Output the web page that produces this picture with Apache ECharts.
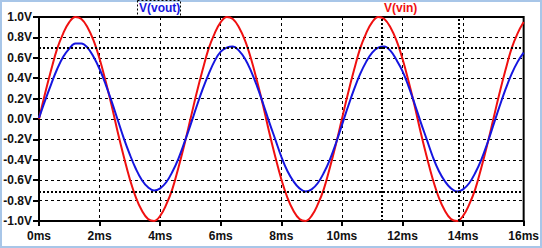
<!DOCTYPE html>
<html>
<head>
<meta charset="utf-8">
<script src="https://cdn.jsdelivr.net/npm/echarts@6/dist/echarts.min.js"></script>
<style>
html,body{margin:0;padding:0;background:#fff;}
#c{width:542px;height:248px;}
</style>
</head>
<body>
<div id="c"></div>
<script>
// time in ms
var times = [0,0.2,0.4,0.6,0.8,1.0,1.2,1.4,1.6,1.8,2.0,2.2,2.4,2.6,2.8,3.0,3.2,3.4,3.6,3.8,
  4.0,4.2,4.4,4.6,4.8,5.0,5.2,5.4,5.6,5.8,6.0,6.2,6.4,6.6,6.8,7.0,7.2,7.4,7.6,7.8,
  8.0,8.2,8.4,8.6,8.8,9.0,9.2,9.4,9.6,9.8,10.0,10.2,10.4,10.6,10.8,11.0,11.2,11.4,11.6,11.8,
  12.0,12.2,12.4,12.6,12.8,13.0,13.2,13.4,13.6,13.8,14.0,14.2,14.4,14.6,14.8,15.0,15.2,15.4,15.6,15.8,16.0];
// V(vin) in volts
var vin = [0,0.25,0.48,0.69,0.84,0.95,1.0,0.98,0.9,0.77,0.59,0.37,0.13,-0.13,-0.37,-0.59,-0.77,-0.9,-0.98,-1.0,-0.95,-0.84,-0.69,-0.48,-0.25,
  0,0.25,0.48,0.69,0.84,0.95,1.0,0.98,0.9,0.77,0.59,0.37,0.13,-0.13,-0.37,-0.59,-0.77,-0.9,-0.98,-1.0,-0.95,-0.84,-0.69,-0.48,-0.25,
  0,0.25,0.48,0.69,0.84,0.95,1.0,0.98,0.9,0.77,0.59,0.37,0.13,-0.13,-0.37,-0.59,-0.77,-0.9,-0.98,-1.0,-0.95,-0.84,-0.69,-0.48,-0.25,
  0,0.25,0.48,0.69,0.84,0.95];
// V(vout) in volts
var vout = [0.01,0.18,0.34,0.49,0.61,0.69,0.74,0.74,0.70,0.61,0.49,0.34,0.17,-0.01,-0.19,-0.35,-0.49,-0.60,-0.67,-0.70,-0.68,-0.62,-0.52,-0.39,-0.23,
  -0.06,0.12,0.29,0.44,0.57,0.66,0.70,0.71,0.67,0.59,0.47,0.32,0.15,-0.03,-0.20,-0.37,-0.51,-0.61,-0.68,-0.71,-0.69,-0.63,-0.53,-0.40,-0.24,
  -0.06,0.12,0.29,0.44,0.56,0.65,0.70,0.71,0.67,0.58,0.47,0.32,0.15,-0.03,-0.20,-0.37,-0.51,-0.61,-0.68,-0.71,-0.69,-0.63,-0.53,-0.40,-0.24,
  -0.06,0.12,0.29,0.44,0.56,0.65];
// cursor positions
var cursorY = [0.7, -0.71];
var cursorX = [11.33, 13.86];
var traceNames = ['V(vout)', 'V(vin)'];

function pairs(ys){ return times.map(function(t,i){ return [t, ys[i]]; }); }

var chart = echarts.init(document.getElementById('c'), null, {renderer:'svg'});
var font = '"Liberation Sans", Arial, sans-serif';
var gridLine = {show:true, lineStyle:{color:'#000', width:1, type:[3,3]}};
var cursorStyle = {color:'#000', width:2, type:[2,2]};
var cursorData = cursorY.map(function(v){return {yAxis:v};}).concat(cursorX.map(function(v){return {xAxis:v};}));

chart.setOption({
  animation:false,
  backgroundColor:'#fff',
  grid:{left:39, right:18, top:17, bottom:27, show:true, borderColor:'#000', borderWidth:2, backgroundColor:'#fff'},
  xAxis:{
    type:'value', min:0, max:16, interval:2,
    axisLine:{show:true, onZero:false, lineStyle:{color:'#000', width:2}},
    axisTick:{show:true, length:5, lineStyle:{color:'#000', width:2}},
    axisLabel:{color:'#111', fontFamily:font, fontWeight:'bold', fontSize:12, margin:9,
      formatter:function(v){return v+'ms';}},
    splitLine:gridLine
  },
  yAxis:{
    type:'value', min:-1, max:1, interval:0.2,
    axisLine:{show:true, onZero:false, lineStyle:{color:'#000', width:2}},
    axisTick:{show:true, length:6, lineStyle:{color:'#000', width:2}},
    axisLabel:{color:'#111', fontFamily:font, fontWeight:'bold', fontSize:12, margin:7,
      formatter:function(v){return v.toFixed(1)+'V';}},
    splitLine:gridLine
  },
  series:[
    {name:traceNames[1], type:'line', data:pairs(vin), smooth:0.4, symbol:'none',
     lineStyle:{color:'#f01010', width:2}, z:3,
     markLine:{silent:true, symbol:'none', label:{show:false}, lineStyle:cursorStyle, data:cursorData, animation:false}},
    {name:traceNames[0], type:'line', data:pairs(vout), smooth:0.4, symbol:'none',
     lineStyle:{color:'#1515e0', width:2}, z:4}
  ],
  graphic:[
    {type:'rect', shape:{x:1, y:1, width:540, height:246}, style:{fill:'none', stroke:'#a8c6e8', lineWidth:2}, silent:true},
    {type:'rect', shape:{x:137.5, y:0.5, width:43, height:16}, style:{fill:'none', stroke:'#000', lineWidth:1, lineDash:[2,2]}, silent:true},
    {type:'text', x:139, y:2, style:{text:traceNames[0], fill:'#1515e0', font:'bold 12px "Liberation Sans", Arial, sans-serif'}},
    {type:'text', x:384, y:2, style:{text:traceNames[1], fill:'#f01010', font:'bold 12px "Liberation Sans", Arial, sans-serif'}}
  ]
});
</script>
</body>
</html>
